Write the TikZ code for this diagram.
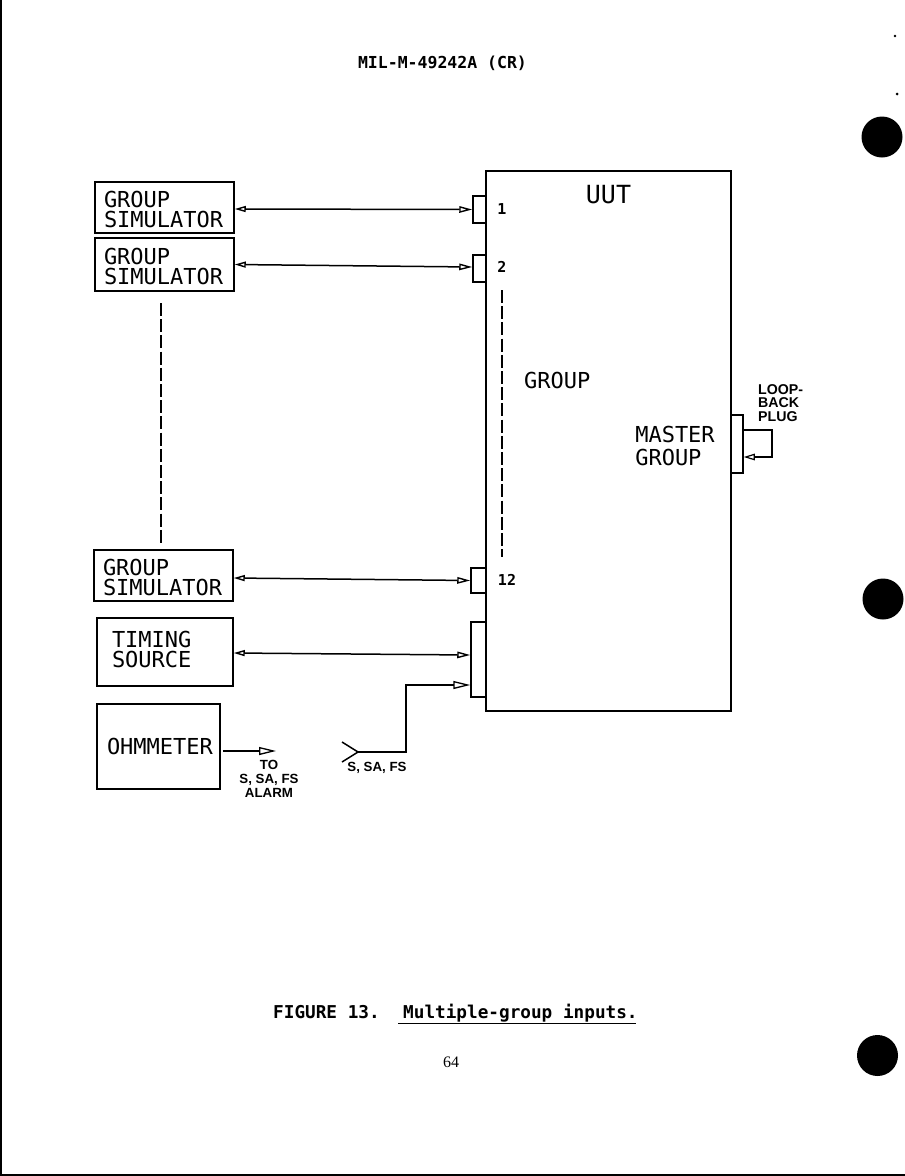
\documentclass[tikz,border=0pt]{standalone}
\usepackage{fontspec}
\usetikzlibrary{arrows.meta,calc}
\setmainfont{Liberation Serif}
\newfontfamily\plotfont{DejaVu Sans Mono}
\newfontfamily\tagfont{Liberation Sans}[BoldFont={Liberation Sans Bold}]
\newcommand{\lowerblock}{\rule{0pt}{21pt}}
\newcommand{\raiseblock}{\rule[-5pt]{0pt}{0pt}}
\tikzset{
  x=1pt, y=-1pt,
  wire/.style={line width=1.5pt},
  opentip/.style={-{Triangle[open,length=17pt,width=8pt,line width=1.3pt]}},
  bothtips/.style={{Triangle[open,length=11pt,width=6pt,line width=1.4pt]}-{Triangle[open,length=13pt,width=6.5pt,line width=1.4pt]}},
  bigtext/.style={font=\plotfont\fontsize{22}{20}\selectfont},
  panel/.style={draw, wire, bigtext, align=left, inner ysep=0pt, anchor=center},
  socket/.style={draw, wire, minimum width=13pt, inner sep=0pt, anchor=center},
  portnum/.style={font=\plotfont\bfseries\fontsize{15}{15}\selectfont, inner sep=0pt},
  tag/.style={font=\tagfont\bfseries\fontsize{13.3}{14}\selectfont, inner sep=0pt, align=center},
  dashline/.style={line width=1.8pt, dash pattern=on 13pt off 3.2pt},
  hole/.style={fill=black, draw=none},
}
\begin{document}
\begin{tikzpicture}
\useasboundingbox (0,0) rectangle (905,1176);
\fill[white] (0,0) rectangle (905,1176);

% sheet edges
\draw[line width=2pt] (0.5,0) -- (0.5,1175) -- (905,1175);

% punched holes and specks
\fill[hole] (882,137) circle (20.5);
\fill[hole] (883,599) circle (20.5);
\fill[hole] (877.5,1055.5) circle (20.5);
\fill[hole] (895,36) circle (1.3);
\fill[hole] (897,94) circle (1.5);

% page furniture
\node[font=\plotfont\bfseries\fontsize{16.5}{18}\selectfont, inner sep=0pt] (hdr) at (442.5,63) {MIL-M-49242A (CR)};
\node[font=\plotfont\bfseries\fontsize{17.7}{18}\selectfont, inner sep=0pt, anchor=base west] (figno) at (273,1018) {FIGURE 13.};
\node[font=\plotfont\bfseries\fontsize{17.7}{18}\selectfont, inner sep=0pt, anchor=base west] (figtitle) at (403,1018) {Multiple-group inputs.};
\draw[wire] ([xshift=-5pt]figtitle.base west |- 0,1023.5) -- ([xshift=-2pt]figtitle.base east |- 0,1023.5);
\node[font=\fontsize{16}{16}\selectfont, inner sep=0pt] (pageno) at (451,1062) {64};

% unit under test
\node[draw, wire, minimum width=245pt, minimum height=540pt, inner sep=0pt] (uut) at (608.5,441) {};
\node[font=\plotfont\fontsize{25}{25}\selectfont, inner sep=0pt] (uutname) at (608.5,195) {UUT};
\node[bigtext, inner sep=0pt, anchor=base west] (grp) at (524,388) {GROUP};
\node[font=\plotfont\fontsize{22}{23}\selectfont, align=left, inner sep=0pt] (master) at (675,445.5) {MASTER\\GROUP};

% group connectors along the left side
\node[socket, minimum height=27pt] (con1) at (479.5,209.5) {};
\node[socket, minimum height=27pt] (con2) at (479.5,268.5) {};
\node[socket, minimum width=15pt, minimum height=25pt] (con12) at (478.5,580.5) {};
\node[socket, minimum width=15pt, minimum height=75pt] (conaux) at (478.5,659.5) {};
\node[portnum] (n1) at (502,209) {1};
\node[portnum] (n2) at (502,267) {2};
\node[portnum] (n12) at (507,579.5) {12};
\coordinate (auxa) at (conaux.west |- 0,655);
\coordinate (auxb) at (conaux.west |- 0,685);

% simulators and test equipment
\node[panel, inner xsep=9pt, text width=121pt, minimum height=51pt] (sim1) at (164.5,207.5) {\lowerblock GROUP\\SIMULATOR};
\node[panel, inner xsep=9pt, text width=121pt, minimum height=53pt] (sim2) at (164.5,264.5) {\lowerblock GROUP\\SIMULATOR};
\node[panel, inner xsep=9pt, text width=121pt, minimum height=51pt] (sim3) at (163.5,575.5) {\lowerblock GROUP\\SIMULATOR};
\node[panel, inner xsep=15pt, text width=106pt, minimum height=68pt] (timing) at (165,652) {TIMING\\SOURCE\raiseblock};
\node[panel, inner xsep=10pt, text width=103pt, minimum height=85pt] (ohm) at (158.5,746.5) {OHMMETER};

% signal lines
\draw[wire, bothtips] ([yshift=-1.5pt]sim1.east) -- (con1.west);
\draw[wire, bothtips] (sim2.east) -- ([yshift=1.5pt]con2.west);
\draw[wire, bothtips] ([yshift=-2.5pt]sim3.east) -- (con12.west);
\draw[wire, bothtips] ([yshift=-1pt]timing.east) -- (auxa);

% elided simulators and ports
\coordinate (leftdashtop) at (161,303);
\coordinate (leftdashend) at (161,544);
\coordinate (rightdashtop) at (502,290);
\coordinate (rightdashend) at (502,557);
\draw[dashline] (leftdashtop) -- (leftdashend);
\draw[dashline] (rightdashtop) -- (rightdashend);

% safety alarm input
\coordinate (forkjoin) at (358,752);
\coordinate (forka) at (342,742);
\coordinate (forkb) at (342,762);
\coordinate (alarmend) at (276,751);
\draw[wire, opentip] (forkjoin) -- (406,752) -- (406,685) -- (auxb);
\draw[wire] (forka) -- (forkjoin) -- (forkb);
\node[tag, anchor=north] (sasfs) at (377,762.5) {S, SA, FS};
\draw[wire, opentip] (ohm.east |- alarmend) ++(2,0) -- (alarmend);
\node[tag, anchor=north] (alarm) at (269,760.5) {TO\\S, SA, FS\\ALARM};

% loop-back plug on the master group
\node[socket, minimum width=12pt, minimum height=58pt] (plug) at (737,444) {};
\coordinate (loopa) at (plug.east |- 0,430);
\coordinate (loopb) at (plug.east |- 0,457);
\draw[wire, -{Triangle[open,length=11pt,width=6.5pt,line width=1.2pt]}] (loopa) -- (772,430) -- (772,457) -- (loopb);
\node[tag, align=left, anchor=north west, font=\tagfont\bfseries\fontsize{14.2}{13.7}\selectfont] (lbp) at (758,384) {LOOP-\\BACK\\PLUG};
\end{tikzpicture}
\end{document}
